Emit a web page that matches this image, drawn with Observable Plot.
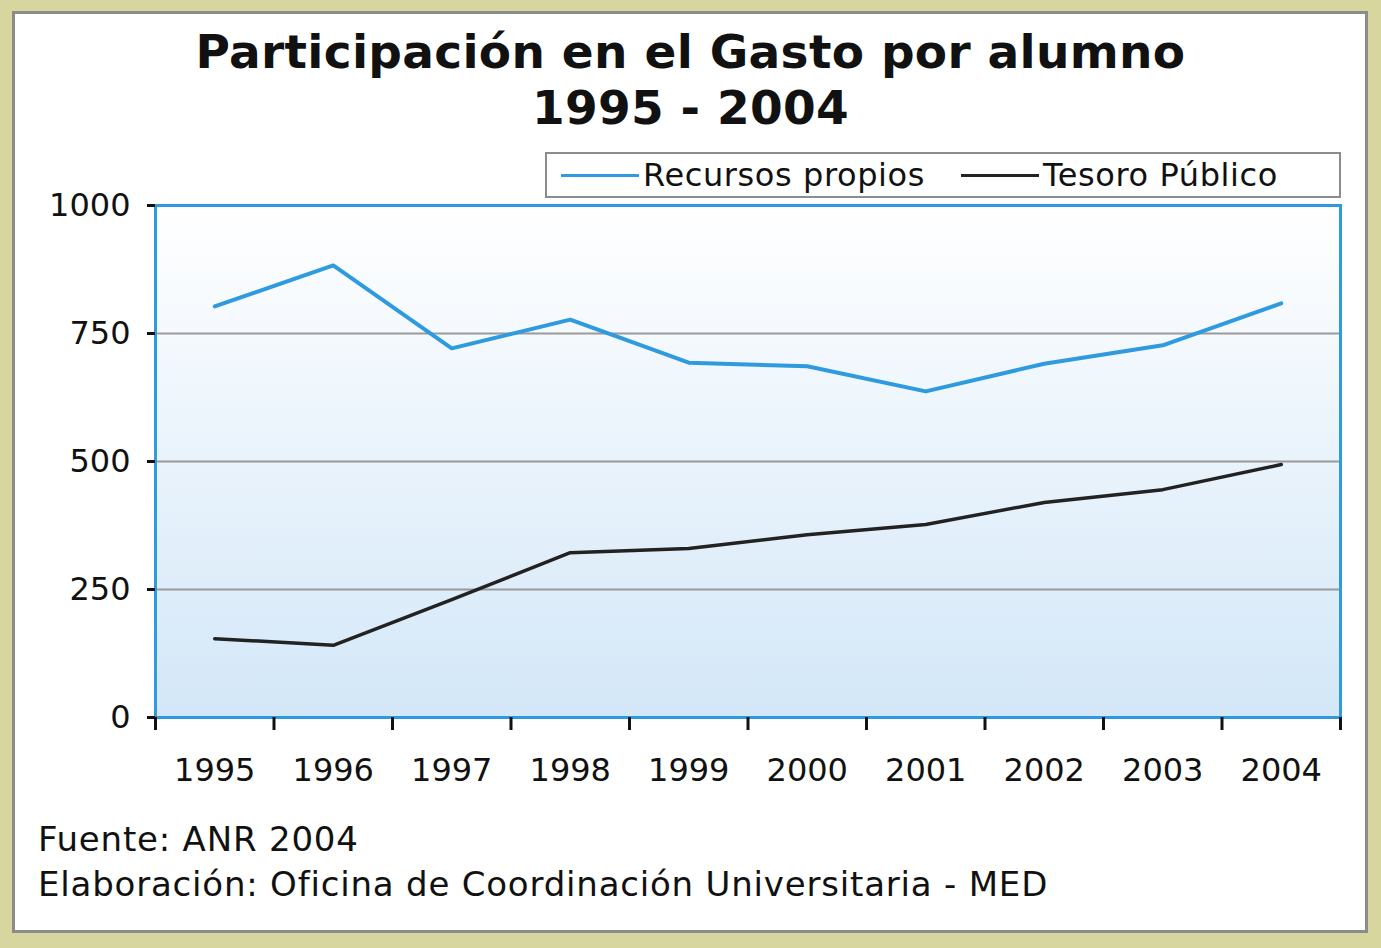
<!DOCTYPE html>
<html><head><meta charset="utf-8">
<script src="https://cdn.jsdelivr.net/npm/d3@7"></script>
<script src="https://cdn.jsdelivr.net/npm/@observablehq/plot@0.6"></script>
<style>
html,body{margin:0;padding:0;}
body{width:1381px;height:948px;background:#d6d69e;position:relative;overflow:hidden;font-family:"DejaVu Sans",sans-serif;color:#111;}
#panel{position:absolute;left:12px;top:11px;width:1356px;height:922px;background:#fff;border:3px solid #8c8c8c;box-sizing:border-box;}
#title{position:absolute;left:0;width:1381px;top:24px;text-align:center;font-weight:bold;font-size:47px;line-height:56px;letter-spacing:0.3px;}
#legend{position:absolute;left:545px;top:152px;width:796px;height:46px;border:2px solid #8c8c8c;box-sizing:border-box;background:#fff;font-size:32px;letter-spacing:0.6px;display:flex;align-items:center;}
#legend .item{display:flex;align-items:center;}
#legend .sw{display:inline-block;width:78px;height:3px;margin-right:4px;}
#chart{position:absolute;left:0;top:170px;}
#caption{position:absolute;left:38px;top:817px;font-size:34px;line-height:45px;letter-spacing:0.8px;}
</style>
</head><body>
<div id="panel"></div>
<div id="title"></div>
<div id="legend"></div>
<div id="chart"></div>
<div id="caption"></div>
<script>
const titleLines = ["Participación en el Gasto por alumno", "1995 - 2004"];
const years = [1995, 1996, 1997, 1998, 1999, 2000, 2001, 2002, 2003, 2004];
const recursosPropios = [803, 883, 721, 777, 693, 686, 637, 691, 727, 809];
const tesoroPublico = [154, 141, 230, 322, 330, 357, 377, 420, 445, 494];
const seriesNames = ["Recursos propios", "Tesoro Público"];
const seriesColors = ["#2f9ade", "#222222"];
const yTicks = [0, 250, 500, 750, 1000];
const gridValues = [250, 500, 750];
const captionLines = ["Fuente: ANR 2004", "Elaboración: Oficina de Coordinación Universitaria - MED"];

document.getElementById("title").innerHTML = titleLines.join("<br>");
document.getElementById("caption").innerHTML = captionLines.join("<br>");

const legend = document.getElementById("legend");
seriesNames.forEach((name, i) => {
  const item = document.createElement("span");
  item.className = "item";
  item.style.marginLeft = i === 0 ? "14px" : "36px";
  const sw = document.createElement("span");
  sw.className = "sw";
  sw.style.background = seriesColors[i];
  item.appendChild(sw);
  item.appendChild(document.createTextNode(name));
  legend.appendChild(item);
});

const bandTicks = years.map(y => y - 0.5).concat([years[years.length - 1] + 0.5]);

const defs = () => {
  const d = d3.create("svg:defs");
  const g = d.append("linearGradient").attr("id", "bgGrad")
    .attr("x1", 0).attr("y1", 0).attr("x2", 0).attr("y2", 1);
  g.append("stop").attr("offset", "0%").attr("stop-color", "#ffffff");
  g.append("stop").attr("offset", "100%").attr("stop-color", "#d3e7f8");
  return d.node();
};

const chart = Plot.plot({
  width: 1381,
  height: 640,
  marginLeft: 155,
  marginRight: 41,
  marginTop: 35,
  marginBottom: 93,
  style: {fontFamily: "DejaVu Sans, sans-serif", fontSize: "32px", color: "#111", background: "transparent"},
  x: {domain: [bandTicks[0], bandTicks[bandTicks.length - 1]], axis: null},
  y: {domain: [0, 1000], axis: null},
  marks: [
    defs,
    Plot.frame({fill: "url(#bgGrad)", stroke: "none"}),
    Plot.gridY(gridValues, {stroke: "#9a9a9a", strokeOpacity: 1, strokeWidth: 2}),
    Plot.lineY(recursosPropios, {x: years, stroke: seriesColors[0], strokeWidth: 4}),
    Plot.lineY(tesoroPublico, {x: years, stroke: seriesColors[1], strokeWidth: 3.5}),
    Plot.frame({stroke: "#2f9ade", strokeWidth: 3}),
    Plot.axisY(yTicks, {tickSize: 8, tickPadding: 17, strokeWidth: 3, tickFormat: d => String(d), fontSize: 32}),
    Plot.axisX(bandTicks, {tickSize: 13, tickFormat: () => "", strokeWidth: 3}),
    Plot.axisX(years, {tickSize: 0, tickPadding: 41, tickFormat: d => String(d), fontSize: 32})
  ]
});
document.getElementById("chart").appendChild(chart);
</script>
</body></html>
